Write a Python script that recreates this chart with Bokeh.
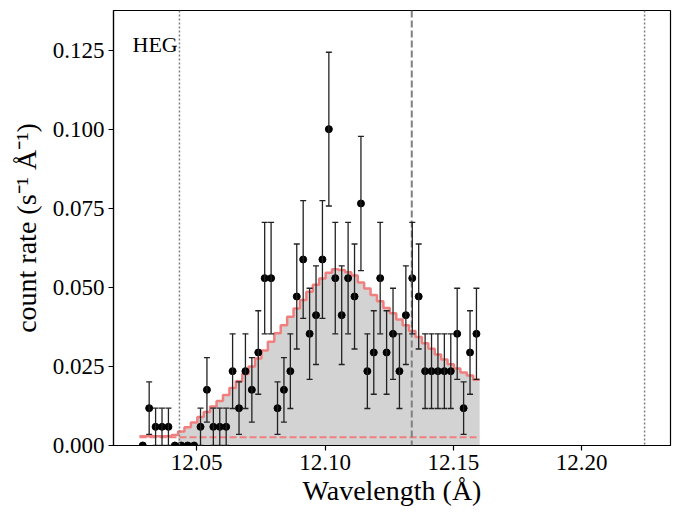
from bokeh.plotting import figure
from bokeh.models import ColumnDataSource, Whisker, TeeHead, FixedTicker, PrintfTickFormatter, Span, Label
from bokeh.embed import file_html
from bokeh.resources import INLINE

# ---- data ----
wavelength = [12.0290, 12.0315, 12.0340, 12.0365, 12.0390, 12.0415, 12.0440, 12.0465, 12.0490, 12.0515,
              12.0540, 12.0565, 12.0590, 12.0615, 12.0640, 12.0665, 12.0690, 12.0715, 12.0740, 12.0765,
              12.0790, 12.0815, 12.0840, 12.0865, 12.0890, 12.0915, 12.0940, 12.0965, 12.0990, 12.1015,
              12.1040, 12.1065, 12.1090, 12.1115, 12.1140, 12.1165, 12.1190, 12.1215, 12.1240, 12.1265,
              12.1290, 12.1315, 12.1340, 12.1365, 12.1390, 12.1415, 12.1440, 12.1465, 12.1490, 12.1515,
              12.1540, 12.1565, 12.1590]
bin_width = 0.0025

rate = [0, 0.0118, 0.0059, 0.0059, 0.0059, 0, 0, 0, 0, 0.0059,
        0.0176, 0.0059, 0.0059, 0.0059, 0.0235, 0.0118, 0.0235, 0.0176, 0.0294, 0.0529,
        0.0529, 0.0118, 0.0176, 0.0235, 0.0471, 0.0588, 0.0353, 0.0412, 0.0588, 0.1000,
        0.0529, 0.0412, 0.0529, 0.0471, 0.0765, 0.0235, 0.0294, 0.0529, 0.0294, 0.0353,
        0.0235, 0.0412, 0.0529, 0.0471, 0.0235, 0.0235, 0.0235, 0.0235, 0.0235, 0.0353,
        0.0118, 0.0294, 0.0353]

rate_err = [0, 0.0083, 0.0059, 0.0059, 0.0059, 0, 0, 0, 0, 0.0059,
            0.0102, 0.0059, 0.0059, 0.0059, 0.0118, 0.0083, 0.0118, 0.0102, 0.0132, 0.0176,
            0.0176, 0.0083, 0.0102, 0.0118, 0.0166, 0.0186, 0.0144, 0.0156, 0.0186, 0.0243,
            0.0176, 0.0156, 0.0176, 0.0166, 0.0212, 0.0118, 0.0132, 0.0176, 0.0132, 0.0144,
            0.0118, 0.0156, 0.0176, 0.0166, 0.0118, 0.0118, 0.0118, 0.0118, 0.0118, 0.0144,
            0.0083, 0.0132, 0.0144]

model = [0.0029, 0.0029, 0.0029, 0.0029, 0.0029, 0.0033, 0.0044, 0.0058, 0.0073, 0.0090,
         0.0106, 0.0123, 0.0141, 0.0160, 0.0182, 0.0203, 0.0226, 0.0250, 0.0275, 0.0300,
         0.0328, 0.0355, 0.0380, 0.0407, 0.0433, 0.0460, 0.0486, 0.0508, 0.0528, 0.0546,
         0.0557, 0.0555, 0.0548, 0.0537, 0.0515, 0.0496, 0.0476, 0.0456, 0.0435, 0.0418,
         0.0398, 0.0380, 0.0362, 0.0343, 0.0323, 0.0306, 0.0288, 0.0272, 0.0257, 0.0243,
         0.0231, 0.0221, 0.0208]

background = 0.0026
region_lo = 12.0433
region_hi = 12.2245
line_center = 12.1338
panel_label = "HEG"

x_ticks = [12.05, 12.10, 12.15, 12.20]
y_ticks = [0.0, 0.025, 0.05, 0.075, 0.1, 0.125]

FONT = "Liberation Serif"

p = figure(width=674, height=508, output_backend="svg", toolbar_location=None,
           x_range=(12.0176, 12.2346), y_range=(0.0, 0.1375),
           min_border_left=113, min_border_right=4, min_border_top=10, min_border_bottom=63)
p.background_fill_color = "white"
p.border_fill_color = "white"
p.outline_line_color = "black"
p.outline_line_width = 1.2
p.grid.visible = False

# step model
edges = [w - bin_width / 2 for w in wavelength] + [wavelength[-1] + bin_width / 2]
sx, sy = [], []
for i, m in enumerate(model):
    sx += [edges[i], edges[i + 1]]
    sy += [m, m]

# gray fill from the region boundary onward
fx, fy = [], []
for i, m in enumerate(model):
    if edges[i] < region_lo - 0.0008:
        continue
    fx += [edges[i], edges[i + 1]]
    fy += [m, m]
p.varea(x=fx, y1=[0] * len(fx), y2=fy, fill_color="#d3d3d3")

p.line(sx, sy, line_color="#f08080", line_width=2.5)
p.line([edges[0], edges[-1]], [background, background], line_color="#f08080",
       line_width=2.2, line_dash="7 3")

p.add_layout(Span(location=region_lo, dimension="height", line_color="#808080",
                  line_width=1.5, line_dash="2 2"))
p.add_layout(Span(location=region_hi, dimension="height", line_color="#808080",
                  line_width=1.5, line_dash="2 2"))
p.add_layout(Span(location=line_center, dimension="height", line_color="#808080",
                  line_width=2, line_dash="7 3"))

# error bars
ex = [w for w, e in zip(wavelength, rate_err) if e > 0]
elo = [r - e for r, e in zip(rate, rate_err) if e > 0]
ehi = [r + e for r, e in zip(rate, rate_err) if e > 0]
esrc = ColumnDataSource(data=dict(x=ex, lower=elo, upper=ehi))
w = Whisker(base="x", lower="lower", upper="upper", source=esrc, dimension="height",
            line_color="#222222", line_width=1.3, level="overlay",
            upper_head=TeeHead(size=6, line_color="#222222", line_width=1.3),
            lower_head=TeeHead(size=6, line_color="#222222", line_width=1.3))
p.add_layout(w)

p.scatter(wavelength, rate, size=7, fill_color="black", line_color="black")

p.add_layout(Label(x=12.0250, y=0.1266, text=panel_label, text_font=FONT,
                   text_font_size="22px", text_color="black", text_baseline="alphabetic"))

for ax in (p.xaxis[0], p.yaxis[0]):
    ax.axis_line_color = "black"
    ax.axis_line_width = 1.2
    ax.major_tick_line_color = "black"
    ax.major_tick_line_width = 1.2
    ax.major_tick_in = 0
    ax.major_tick_out = 5
    ax.minor_tick_line_color = None
    ax.major_label_text_font = FONT
    ax.major_label_text_font_size = "23px"
    ax.major_label_text_color = "black"
    ax.axis_label_text_font = FONT
    ax.axis_label_text_font_size = "28px"
    ax.axis_label_text_font_style = "normal"
    ax.axis_label_text_color = "black"

p.xaxis.ticker = FixedTicker(ticks=x_ticks)
p.xaxis.formatter = PrintfTickFormatter(format="%.2f")
p.yaxis.ticker = FixedTicker(ticks=y_ticks)
p.yaxis.formatter = PrintfTickFormatter(format="%.3f")
p.xaxis.axis_label = "Wavelength (Å)"
p.yaxis.axis_label = "count rate (s\u207b\u00b9 Å\u207b\u00b9)"
p.xaxis.major_label_standoff = 4
p.yaxis.major_label_standoff = 4
p.xaxis.axis_label_standoff = 2
p.yaxis.axis_label_standoff = 8

open("out.html", "w").write(file_html(p, INLINE))
